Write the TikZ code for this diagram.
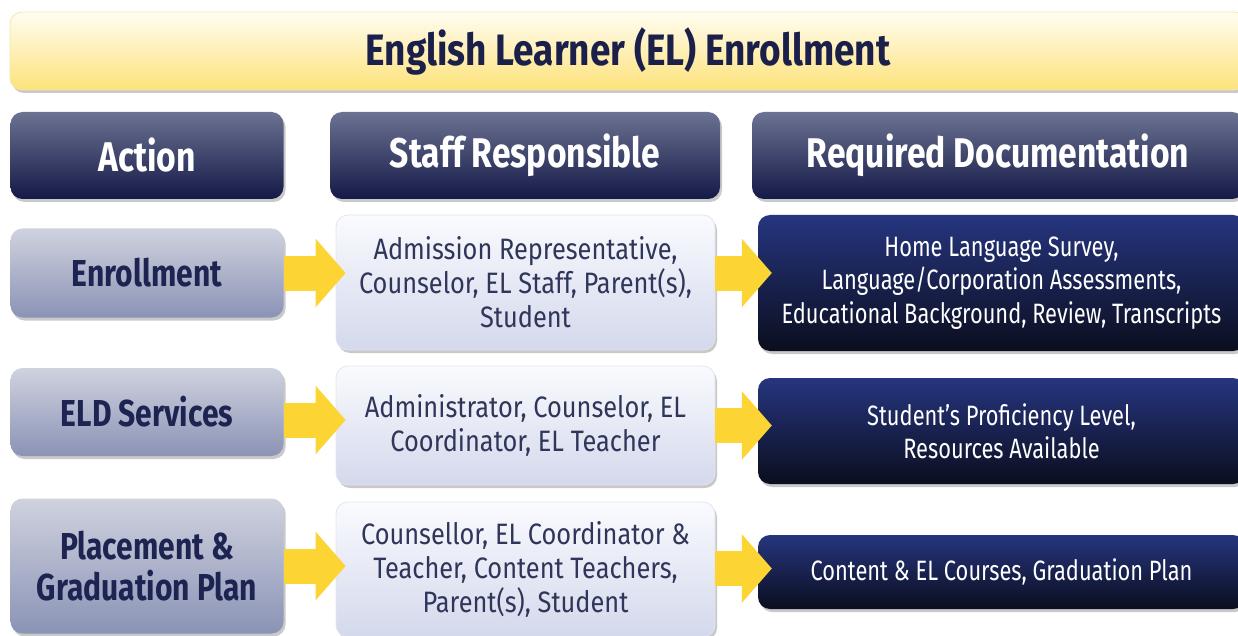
\documentclass[tikz,border=0pt]{standalone}
\usepackage{fontspec}
\setmainfont{Fira Sans}[FakeStretch=0.78]
\newfontfamily\titlefont{Fira Sans}[FakeStretch=0.84]
\newfontfamily\headfont{Fira Sans}[FakeStretch=0.81]
\newfontfamily\actfont{Fira Sans}[FakeStretch=0.80]
\newfontfamily\stafffont{Fira Sans}[FakeStretch=0.86]
\newfontfamily\docfont{Fira Sans}[FakeStretch=0.78]
\usetikzlibrary{shadows,arrows.meta,calc,shadings}
\definecolor{titletext}{HTML}{1B204B}
\definecolor{actiontext}{HTML}{1E2452}
\definecolor{stafftext}{HTML}{2F3659}
\definecolor{ttop}{HTML}{FFFDF2}
\definecolor{tbot}{HTML}{FDE27A}
\definecolor{tline}{HTML}{F5E6A8}
\definecolor{htop}{HTML}{6C7292}
\definecolor{hbot}{HTML}{141A46}
\definecolor{atop}{HTML}{CFD2DE}
\definecolor{abot}{HTML}{8B93B6}
\definecolor{stop}{HTML}{FAFBFE}
\definecolor{sbot}{HTML}{D3D8EC}
\definecolor{sline}{HTML}{E2E5F0}
\definecolor{dtop}{HTML}{26357F}
\definecolor{dbot}{HTML}{0B0E1E}
\definecolor{arrowyellow}{HTML}{FCD535}
\tikzset{
  shad/.style={drop shadow={opacity=0.3,shadow xshift=2pt,shadow yshift=-3pt,fill=black!70}},
  box/.style={rounded corners=12pt,shad,inner sep=0pt,align=center},
  titlebox/.style={box,top color=ttop,bottom color=tbot,draw=tline,line width=0.8pt,
    text=titletext,font=\titlefont\fontsize{44}{48}\selectfont\bfseries},
  headbox/.style={box,top color=htop,bottom color=hbot,minimum height=87pt,
    text=white,font=\headfont\fontsize{41.5}{46}\selectfont\bfseries},
  actbox/.style={box,top color=atop,bottom color=abot,minimum width=273pt,
    text=actiontext,font=\actfont\fontsize{37.5}{41}\selectfont\bfseries},
  staffbox/.style={box,top color=stop,bottom color=sbot,draw=sline,line width=0.8pt,
    minimum width=379pt,text=stafftext,font=\stafffont\fontsize{29.5}{34}\selectfont},
  docbox/.style={box,top color=dtop,bottom color=dbot,minimum width=487pt,
    text=white,font=\docfont\fontsize{28}{33.5}\selectfont},
  yarrow/.style={draw=arrowyellow,line width=35pt,
    -{Triangle[length=30pt,width=67pt]}}
}
\begin{document}
\begin{tikzpicture}[x=1pt,y=-1pt]
\path[use as bounding box] (0,0) rectangle (1238,636);
\clip (0,0) rectangle (1238,636);

\node[titlebox,minimum width=1236pt,minimum height=78pt] (title) at (628,51) {English Learner (EL) Enrollment};

\node[headbox,minimum width=273pt] (hact) at (147,155.5) {Action};
\node[headbox,minimum width=390pt] (hstaff) at (525,155.5) {Staff Responsible};
\node[headbox,minimum width=492pt] (hdoc) at (998,155.5) {Required Documentation};

\node[actbox,minimum height=89pt] (act1) at (147,273) {Enrollment};
\node[actbox,minimum height=88pt] (act2) at (147,412) {ELD Services};
\node[actbox,minimum height=135pt] (act3) at (147,566) {Placement \&\\Graduation Plan};

\node[staffbox,minimum height=135pt] (staff1) at (525.5,282.5) {Admission Representative,\\Counselor, EL Staff, Parent(s),\\Student};
\node[staffbox,minimum height=119pt] (staff2) at (525.5,425.5) {Administrator, Counselor, EL\\Coordinator, EL Teacher};
\node[staffbox,minimum height=135pt] (staff3) at (525.5,569.5) {Counsellor, EL Coordinator \&\\Teacher, Content Teachers,\\Parent(s), Student};

\node[docbox,minimum height=136pt] (doc1) at (1001.5,283) {Home Language Survey,\\Language/Corporation Assessments,\\Educational Background, Review, Transcripts};
\node[docbox,minimum height=106pt] (doc2) at (1001.5,431) {Student’s Proficiency Level,\\Resources Available};
\node[docbox,minimum height=74pt] (doc3) at (1001.5,572) {Content \& EL Courses, Graduation Plan};

\draw[yarrow] (act1.east) -- ($(act1.east -| staff1.west)+(10,0)$);
\draw[yarrow] (act1.east -| staff1.east) -- ($(act1.east -| doc1.west)+(14,0)$);
\draw[yarrow] ($(act2.east)+(0,8)$) -- ($(act2.east -| staff2.west)+(10,8)$);
\draw[yarrow] (staff2.east) -- ($(staff2.east -| doc2.west)+(14,0)$);
\draw[yarrow] (act3.east) -- ($(act3.east -| staff3.west)+(10,0)$);
\draw[yarrow] ($(staff3.east)+(0,-1)$) -- ($(staff3.east -| doc3.west)+(14,-1)$);
\end{tikzpicture}
\end{document}
